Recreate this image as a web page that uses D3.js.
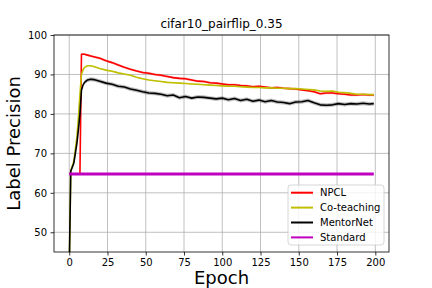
<!DOCTYPE html>
<html><head><meta charset="utf-8">
<script src="https://cdn.jsdelivr.net/npm/d3@7"></script>
<style>body{margin:0;background:#fff}svg{display:block}text{font-family:"DejaVu Sans",sans-serif}</style>
</head><body><svg id="c" width="432" height="288"></svg>
<script>
const epochs = [0,1,2,3,4,5,6,7,8,9,10,12,14,16,20,24,28,32,36,40,44,48,52,56,60,64,68,72,76,80,84,88,92,96,100,104,108,112,116,120,124,128,132,136,140,144,148,152,156,160,164,168,172,176,180,184,188,192,196,199];
const npcl = [64.8,64.8,64.8,64.8,64.8,64.8,64.8,64.8,95.1,95.2,95.1,94.9,94.7,94.5,94.1,93.5,93.0,92.4,91.8,91.3,90.9,90.5,90.3,90.0,89.8,89.5,89.2,89.0,88.9,88.6,88.3,88.2,87.9,87.8,87.6,87.4,87.4,87.2,87.1,86.9,87.0,86.8,86.6,86.7,86.5,86.4,86.3,86.1,85.9,85.6,85.1,85.3,85.3,85.1,85.0,84.8,84.8,84.9,84.8,84.8];
const coteaching = [40.0,65.5,66.8,68.0,71.0,74.0,79.0,85.0,90.0,91.2,91.8,92.2,92.2,92.0,91.5,91.1,90.8,90.4,90.1,89.8,89.3,88.9,88.6,88.4,88.2,88.0,87.9,87.8,87.7,87.6,87.5,87.4,87.3,87.2,87.1,87.0,87.0,86.9,86.8,86.7,86.7,86.6,86.6,86.5,86.5,86.4,86.4,86.3,86.2,86.1,85.8,85.7,85.8,85.5,85.4,85.2,85.0,85.0,84.9,84.9];
const mentornet = [40.0,65.5,66.5,67.5,70.0,72.5,76.0,80.0,86.0,87.3,88.0,88.6,88.8,88.7,88.3,87.8,87.5,87.0,86.8,86.3,86.0,85.6,85.3,85.2,85.0,84.6,84.8,84.1,84.4,84.0,84.3,84.2,84.0,83.8,84.0,83.6,83.9,83.4,83.7,83.2,83.5,83.1,83.4,83.0,82.9,82.6,83.0,83.1,83.4,82.8,82.3,82.2,82.3,82.6,82.4,82.6,82.5,82.7,82.5,82.6];
const standard = [64.8,64.8];
const standardEpochs = [0,199];
const bandHalf = {npcl:0.3, coteaching:0.15, mentornet:0.5};
const xTicks = [0,25,50,75,100,125,150,175,200];
const yTicks = [50,60,70,80,90,100];
const seriesNames = ["NPCL","Co-teaching","MentorNet","Standard"];
const colors = ["#ff0000","#bfbf00","#000000","#bf00bf"];

const svg = d3.select("#c");
const L=54,R=389,T=35,B=252;
const x = d3.scaleLinear().domain([-9.95,208.95]).range([L,R]);
const y = d3.scaleLinear().domain([45,100]).range([B,T]);

svg.append("defs").append("clipPath").attr("id","clip").append("rect")
  .attr("x",L).attr("y",T).attr("width",R-L).attr("height",B-T);

const g = svg.append("g");
g.selectAll(".gx").data(xTicks).enter().append("line")
  .attr("x1",d=>x(d)).attr("x2",d=>x(d)).attr("y1",T).attr("y2",B)
  .attr("stroke","#b0b0b0").attr("stroke-width",0.8);
g.selectAll(".gy").data(yTicks).enter().append("line")
  .attr("y1",d=>y(d)).attr("y2",d=>y(d)).attr("x1",L).attr("x2",R)
  .attr("stroke","#b0b0b0").attr("stroke-width",0.8);

const plot = svg.append("g").attr("clip-path","url(#clip)");
const line = d3.line().x(d=>x(d[0])).y(d=>y(d[1]));
const area = d3.area().x(d=>x(d[0])).y0(d=>y(d[1]-d[2])).y1(d=>y(d[1]+d[2]));

const series = [
  {vals:npcl, c:colors[0], h:bandHalf.npcl, w:1.6},
  {vals:coteaching, c:colors[1], h:bandHalf.coteaching, w:1.6},
  {vals:mentornet, c:colors[2], h:bandHalf.mentornet, w:1.6},
];
series.forEach(s=>{
  const pts = epochs.map((e,i)=>[e,s.vals[i],s.h]);
  plot.append("path").attr("d",area(pts.slice(10))).attr("fill",s.c).attr("opacity",0.25);
  plot.append("path").attr("d",line(pts)).attr("fill","none").attr("stroke",s.c)
    .attr("stroke-width",s.w).attr("stroke-linejoin","round");
});
plot.append("path").attr("d",line(standardEpochs.map((e,i)=>[e,standard[i]])))
  .attr("fill","none").attr("stroke",colors[3]).attr("stroke-width",3);

const xa = svg.append("g").attr("transform",`translate(0,${B})`)
  .call(d3.axisBottom(x).tickValues(xTicks).tickSize(3.5).tickPadding(3.5).tickSizeOuter(0));
const ya = svg.append("g").attr("transform",`translate(${L},0)`)
  .call(d3.axisLeft(y).tickValues(yTicks).tickSize(3.5).tickPadding(3.5).tickSizeOuter(0));
[xa,ya].forEach(a=>{a.select(".domain").remove();
  a.selectAll("text").attr("font-size",10).attr("fill","#000").attr("font-family","DejaVu Sans");
  a.selectAll("line").attr("stroke","#000").attr("stroke-width",0.8);});

svg.append("rect").attr("x",L).attr("y",T).attr("width",R-L).attr("height",B-T)
  .attr("fill","none").attr("stroke","#000").attr("stroke-width",0.8);

svg.append("text").attr("x",(L+R)/2).attr("y",28).attr("text-anchor","middle")
  .attr("font-size",12).text("cifar10_pairflip_0.35");
svg.append("text").attr("x",(L+R)/2).attr("y",284).attr("text-anchor","middle")
  .attr("font-size",18).text("Epoch");
svg.append("text").attr("transform",`translate(20,${(T+B)/2}) rotate(-90)`).attr("text-anchor","middle")
  .attr("font-size",18).text("Label Precision");

const lg = svg.append("g");
lg.append("rect").attr("x",288).attr("y",185).attr("width",96).attr("height",60)
  .attr("rx",3).attr("fill","#fff").attr("fill-opacity",0.8).attr("stroke","#cccccc").attr("stroke-width",0.8);
seriesNames.forEach((n,i)=>{
  const yy = 192.7 + i*14.9;
  lg.append("line").attr("x1",291).attr("x2",313).attr("y1",yy).attr("y2",yy)
    .attr("stroke",colors[i]).attr("stroke-width",2);
  lg.append("text").attr("x",320).attr("y",yy+3.6).attr("font-size",10).text(n);
});
</script></body></html>
